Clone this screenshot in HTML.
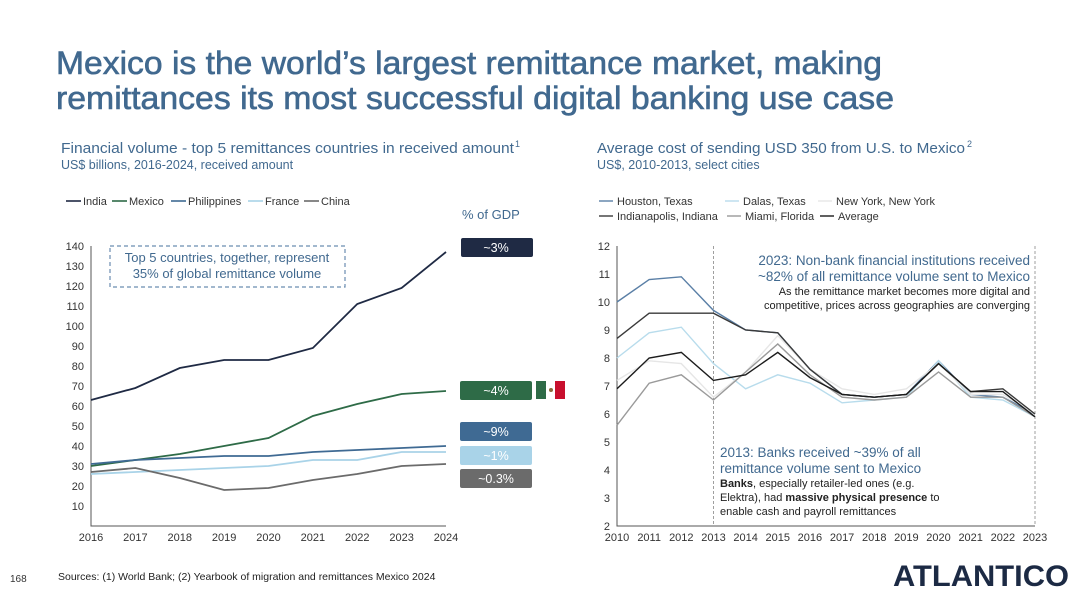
<!DOCTYPE html>
<html><head><meta charset="utf-8"><style>
html,body{margin:0;padding:0;background:#fff;width:1080px;height:600px;overflow:hidden}
svg{display:block;font-family:"Liberation Sans",Arial,sans-serif}
</style></head><body>
<svg id="s" width="1080" height="600" viewBox="0 0 1080 600" xmlns="http://www.w3.org/2000/svg">
<g fill="#41698f" stroke="#41698f" stroke-width="0.6" font-size="32">
<text x="56" y="74" textLength="826" lengthAdjust="spacingAndGlyphs">Mexico is the world’s largest remittance market, making</text>
<text x="56" y="109" textLength="838" lengthAdjust="spacingAndGlyphs">remittances its most successful digital banking use case</text>
</g>
<text x="61" y="153" font-size="14.5" fill="#41698f" textLength="453" lengthAdjust="spacingAndGlyphs">Financial volume - top 5 remittances countries in received amount</text>
<text x="515" y="147" font-size="9" fill="#41698f">1</text>
<text x="61" y="169" font-size="12.5" fill="#41698f">US$ billions, 2016-2024, received amount</text>
<text x="597" y="153" font-size="14.5" fill="#41698f" textLength="368" lengthAdjust="spacingAndGlyphs">Average cost of sending USD 350 from U.S. to Mexico</text>
<text x="967" y="147" font-size="9" fill="#41698f">2</text>
<text x="597" y="169" font-size="12.5" fill="#41698f">US$, 2010-2013, select cities</text>
<text x="462" y="219" font-size="13" fill="#41698f">% of GDP</text>
<g>
<rect x="110" y="246" width="235" height="41" fill="none" stroke="#6b8db0" stroke-dasharray="4,3" stroke-width="1.2"/>
<text x="227" y="262" font-size="13" fill="#41698f" text-anchor="middle">Top 5 countries, together, represent</text>
<text x="227" y="278" font-size="13" fill="#41698f" text-anchor="middle">35% of global remittance volume</text>
</g>
<g text-anchor="end">
<text x="1030" y="265" font-size="13.5" fill="#41698f">2023: Non-bank financial institutions received</text>
<text x="1030" y="281" font-size="13.5" fill="#41698f">~82% of all remittance volume sent to Mexico</text>
<text x="1030" y="295" font-size="11" fill="#222">As the remittance market becomes more digital and</text>
<text x="1030" y="309" font-size="11" fill="#222">competitive, prices across geographies are converging</text>
</g>
<g>
<text x="720" y="457" font-size="13.5" fill="#41698f">2013: Banks received ~39% of all</text>
<text x="720" y="473" font-size="13.5" fill="#41698f">remittance volume sent to Mexico</text>
<text x="720" y="487" font-size="11" fill="#222"><tspan font-weight="bold">Banks</tspan>, especially retailer-led ones (e.g.</text>
<text x="720" y="501" font-size="11" fill="#222">Elektra), had <tspan font-weight="bold">massive physical presence</tspan> to</text>
<text x="720" y="515" font-size="11" fill="#222">enable cash and payroll remittances</text>
</g>
<g>
<text x="10" y="582" font-size="10" fill="#333">168</text>
<text x="58" y="580" font-size="10.5" fill="#222">Sources: (1) World Bank; (2) Yearbook of migration and remittances Mexico 2024</text>
<text x="893" y="586" font-size="30" font-weight="bold" fill="#1c2a44" textLength="176" lengthAdjust="spacingAndGlyphs">ATLANTICO</text>
</g>
<g id="L"></g><g id="R"></g>
</svg>
<script>
const NS="http://www.w3.org/2000/svg";
const leftYears=["2016","2017","2018","2019","2020","2021","2022","2023","2024"];
const leftTicks=[10,20,30,40,50,60,70,80,90,100,110,120,130,140];
const leftSeriesNames=["India","Mexico","Philippines","France","China"];
const india=[63,69,79,83,83,89,111,119,137];
const mexico=[30,33,36,40,44,55,61,66,67.5];
const philippines=[31,33,34,35,35,37,38,39,40];
const france=[26,27,28,29,30,33,33,37,37];
const china=[27,29,24,18,19,23,26,30,31];
const gdpLabels=["~3%","~4%","~9%","~1%","~0.3%"];

const rightYears=["2010","2011","2012","2013","2014","2015","2016","2017","2018","2019","2020","2021","2022","2023"];
const rightTicks=[2,3,4,5,6,7,8,9,10,11,12];
const rightSeriesNames=["Houston, Texas","Dalas, Texas","New York, New York","Indianapolis, Indiana","Miami, Florida","Average"];
const houston=[10.0,10.8,10.9,9.7,9.0,8.9,7.6,6.7,6.6,6.7,7.9,6.7,6.6,6.0];
const dallas=[8.0,8.9,9.1,7.8,6.9,7.4,7.1,6.4,6.5,6.6,7.9,6.6,6.5,5.9];
const newyork=[7.2,7.9,7.8,6.6,7.5,8.8,7.6,6.9,6.7,6.9,7.8,6.7,6.7,6.0];
const indianapolis=[8.7,9.6,9.6,9.6,9.0,8.9,7.6,6.7,6.6,6.7,7.8,6.8,6.9,6.0];
const miami=[5.6,7.1,7.4,6.5,7.5,8.5,7.4,6.6,6.5,6.6,7.5,6.6,6.6,5.9];
const average=[6.9,8.0,8.2,7.2,7.4,8.2,7.3,6.7,6.6,6.7,7.8,6.8,6.8,5.9];

function el(tag,attrs,parent,txt){const e=document.createElementNS(NS,tag);for(const k in attrs)e.setAttribute(k,attrs[k]);if(txt!==undefined)e.textContent=txt;parent.appendChild(e);return e;}

// LEFT
const L=document.getElementById('L');
const lx=i=>91+i*(446-91)/(leftYears.length-1);
const ly=v=>526-v*2;
let ax=el('path',{d:'M91,246 V526 H446',fill:'none',stroke:'#555','stroke-width':1},L);


leftTicks.forEach(t=>{const e=el('text',{x:84,y:ly(t)+4,'font-size':11,fill:'#333','text-anchor':'end'},L,t);

});
leftYears.forEach((y,i)=>{const e=el('text',{x:lx(i),y:541,'font-size':11,fill:'#333','text-anchor':'middle'},L,y);

});
const lData=[india,mexico,philippines,france,china];
const lCol=["#1f2a44","#2e6b47","#3f6a93","#a9d3e8","#6b6b6b"];
const lLegX=[66,112,171,248,304];
lData.forEach((d,s)=>{const p=el('polyline',{points:d.map((v,i)=>lx(i)+','+ly(v)).join(' '),fill:'none',stroke:lCol[s],'stroke-width':1.8},L);


const g=el('g',{},L);


el('line',{x1:lLegX[s],x2:lLegX[s]+15,y1:201,y2:201,stroke:lCol[s],'stroke-width':1.6},g);
el('text',{x:lLegX[s]+17,y:205,'font-size':11,fill:'#333'},g,leftSeriesNames[s]);});
const bY=[238,381,422,446,469];
const bCol=["#1f2a44","#2e6b47","#3f6a93","#a9d3e8","#6b6b6b"];
gdpLabels.forEach((t,i)=>{const g=el('g',{},L);


el('rect',{x:i==0?461:460,y:bY[i],width:72,height:19,rx:2,fill:bCol[i]},g);
el('text',{x:496,y:bY[i]+14,'font-size':12.5,fill:'#fff','text-anchor':'middle'},g,t);});
const f=el('g',{},L);


el('rect',{x:536,y:381,width:10,height:18,fill:'#2e6b47'},f);
el('circle',{cx:551,cy:390,r:2,fill:'#8a6a3a'},f);
el('rect',{x:555,y:381,width:10,height:18,fill:'#c8102e'},f);

// RIGHT
const R=document.getElementById('R');
const rx=i=>617+i*(1035-617)/(rightYears.length-1);
const ry=v=>526-(v-2)*28;
ax=el('path',{d:'M617,246 V526 H1035',fill:'none',stroke:'#555','stroke-width':1},R);


[3,13].forEach(i=>{const l=el('line',{x1:rx(i),x2:rx(i),y1:246,y2:526,stroke:'#888','stroke-dasharray':'3,2','stroke-width':0.8},R);

});
rightTicks.forEach(t=>{const e=el('text',{x:610,y:ry(t)+4,'font-size':11,fill:'#333','text-anchor':'end'},R,t);

});
rightYears.forEach((y,i)=>{const e=el('text',{x:rx(i),y:541,'font-size':11,fill:'#333','text-anchor':'middle'},R,y);

});
const rData=[houston,dallas,newyork,indianapolis,miami,average];
const rCol=["#5a7fa6","#b8dcec","#e6e6e6","#3a3a3a","#9a9a9a","#1c1c1c"];
const rLeg=[[599,201],[725,201],[818,201],[599,216],[727,216],[820,216]];
rData.forEach((d,s)=>{const p=el('polyline',{points:d.map((v,i)=>rx(i)+','+ry(v)).join(' '),fill:'none',stroke:rCol[s],'stroke-width':1.4},R);


const g=el('g',{},R);


el('line',{x1:rLeg[s][0],x2:rLeg[s][0]+14,y1:rLeg[s][1],y2:rLeg[s][1],stroke:rCol[s],'stroke-width':1.4},g);
el('text',{x:rLeg[s][0]+18,y:rLeg[s][1]+4,'font-size':11,fill:'#333'},g,rightSeriesNames[s]);});
</script>
</body></html>
